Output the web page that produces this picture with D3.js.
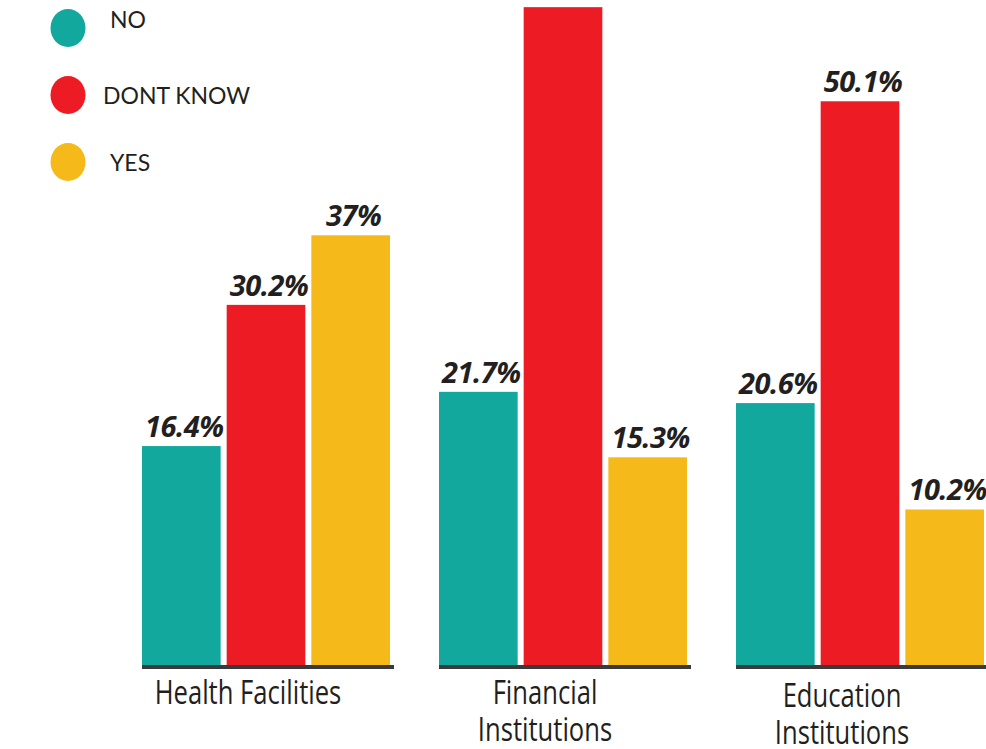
<!DOCTYPE html>
<html>
<head>
<meta charset="utf-8">
<script src="https://cdn.jsdelivr.net/npm/d3@7"></script>
<style>
  body { margin: 0; background: #fff; }
  svg { display: block; }
  .val { font-family: "Open Sans", sans-serif; font-weight: 700; font-style: italic; fill: #231f20; }
  .cat { font-family: "Open Sans", sans-serif; fill: #231f20; }
  .leg { font-family: Lato, sans-serif; fill: #231f20; }
</style>
</head>
<body>
<div id="chart"></div>
<script>
// categories + series
var categories = ['Health Facilities', 'Financial Institutions', 'Education Institutions'];
var keys = ['NO', 'DONT KNOW', 'YES'];
var noVals = [16.4, 21.7, 20.6];
var dontKnowVals = [30.2, 59.3, 50.1]; // financial value is cut off in the picture, estimated
var yesVals = [37, 15.3, 10.2];

var color = {'NO': '#13a89e', 'DONT KNOW': '#ed1c24', 'YES': '#f5b91a'};

var rows = categories.map(function(c, i){
    return {cat: c, values: [
        {key: 'NO', v: noVals[i]},
        {key: 'DONT KNOW', v: dontKnowVals[i]},
        {key: 'YES', v: yesVals[i]}
    ]};
});

var W = 986, H = 749;
var svg = d3.select('#chart').append('svg').attr('width', W).attr('height', H);

var x0 = d3.scaleBand().domain(categories).range([142, 988]).paddingInner(0.1515).paddingOuter(0);
var x1 = d3.scaleBand().domain(keys).range([0, 248]).paddingInner(0.071).paddingOuter(0);
var y = d3.scaleLinear().domain([-5, 60]).range([665, 0]);

var g = svg.selectAll('.group').data(rows).enter().append('g')
    .attr('class', 'group')
    .attr('transform', d => 'translate(' + x0(d.cat) + ',0)');

g.selectAll('rect').data(d => d.values).enter().append('rect')
    .attr('x', d => x1(d.key))
    .attr('width', x1.bandwidth())
    .attr('y', d => y(d.v))
    .attr('height', d => y(-5) - y(d.v))
    .attr('fill', d => color[d.key]);

// baseline under each group
g.append('rect')
    .attr('x', 0).attr('y', y(-5))
    .attr('width', x0.bandwidth()).attr('height', 4)
    .attr('fill', '#3a3a3c');

g.selectAll('.val').data(d => d.values).enter().append('text')
    .attr('class', 'val')
    .attr('x', d => x1(d.key) + x1.bandwidth() / 2 + 3)
    .attr('y', d => y(d.v) - 9)
    .attr('text-anchor', 'middle')
    .attr('font-size', 29)
    .attr('letter-spacing', -0.5)
    .text(d => d3.format('')(d.v) + '%');

// category labels (squeezed to look condensed)
var lines = d => d.cat == 'Health Facilities' ? [d.cat] : d.cat.split(' ');
g.append('text')
    .attr('class', 'cat')
    .attr('transform', (d, i) => 'translate(' + (x0.bandwidth() / 2 - 20) + ',' + (i == 2 ? 707 : 704) + ') scale(0.8,1)')
    .attr('text-anchor', 'middle')
    .attr('font-size', 32)
    .selectAll('tspan')
    .data(lines)
    .enter().append('tspan')
    .attr('x', 0)
    .attr('dy', (d, i) => i == 0 ? 0 : 37)
    .text(d => d);

// legend
var leg = svg.selectAll('.legItem').data(keys).enter().append('g')
    .attr('class', 'legItem')
    .attr('transform', (d, i) => 'translate(68,' + (28 + i * 67) + ')');
leg.append('ellipse').attr('rx', 17.5).attr('ry', 19).attr('fill', d => color[d]);
leg.append('text').attr('class', 'leg')
    .attr('x', (d, i) => i == 1 ? 35 : 42)
    .attr('y', (d, i) => i == 0 ? 0 : 9)
    .attr('font-size', 23)
    .text(d => d);
</script>
</body>
</html>
